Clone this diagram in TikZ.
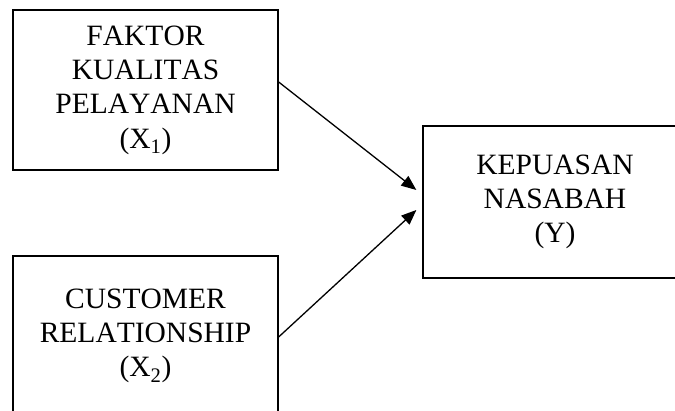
\documentclass[tikz,border=0pt]{standalone}
\usepackage{fontspec}
\setmainfont[Kerning=Off]{Liberation Serif}
\usepackage{tikz}
\usetikzlibrary{positioning, calc, arrows.meta}

\tikzset{kotak/.style={draw, line width=1.3pt, align=center, inner sep=0pt, font=\fontsize{29.5}{34.3}\selectfont,
                       execute at begin node={\rule{0pt}{33pt}}},
         panah/.style={-{Triangle[length=15pt,width=12pt]}, line width=1.3pt}}

\begin{document}
\begin{tikzpicture}[x=1pt,y=1pt]
                \clip (0,0) rectangle (675,411);
                \node[kotak, minimum width=265pt, minimum height=160pt] (fk) at (145.5,321) {FAKTOR\\ KUALITAS\\ PELAYANAN\\ (X\textsubscript{1})};
                \node[kotak, minimum width=265pt, minimum height=160pt] (cr) at (145.5,75) {CUSTOMER\\ RELATIONSHIP\\ (X\textsubscript{2})};
                \node[kotak, minimum width=264pt, minimum height=152pt] (kp) at (555,209) {KEPUASAN\\ NASABAH\\ (Y)};
                \draw[panah] ([yshift=8pt]fk.east) -- ([xshift=-6pt,yshift=12pt]kp.west);
                \draw[panah] ([yshift=-1pt]cr.east) -- ([xshift=-6pt,yshift=-8pt]kp.west);
            \end{tikzpicture}
\end{document}
